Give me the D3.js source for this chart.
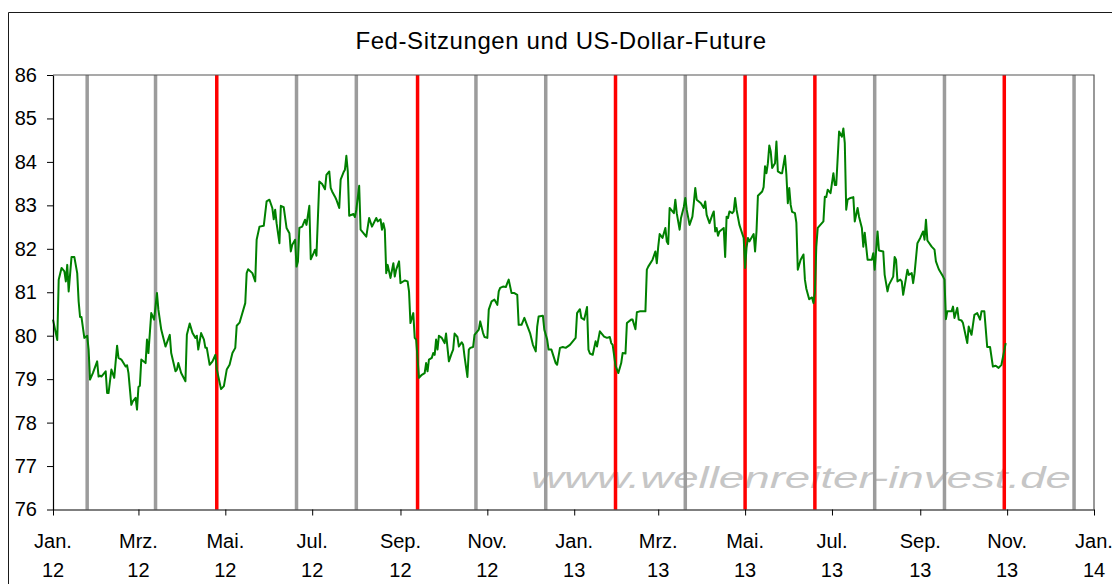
<!DOCTYPE html>
<html>

<head>
    <meta charset="utf-8">
    <script src="https://d3js.org/d3.v7.min.js"></script>
    <style>
        body {
            margin: 0;
            background-color: #ffffff;
        }
        svg text {
            font-family: "Liberation Sans", Arial, sans-serif;
        }
    </style>
</head>

<body>
    <svg id="canvas" width="1112" height="584"></svg>
    <script>
        const svg = d3.select('#canvas');
        const WIDTH = 1112;
        const HEIGHT = 584;
        const PLOT = { left: 53, right: 1094, top: 75, bottom: 509.5 };

        //chart texts
        const title = 'Fed-Sitzungen und US-Dollar-Future';
        const watermark = 'www.wellenreiter-invest.de';

        //y axis ticks
        const yTicks = [76, 77, 78, 79, 80, 81, 82, 83, 84, 85, 86];

        //x axis ticks: every second month, label = month / year
        const xTickDates = ['2012-01-01', '2012-03-01', '2012-05-01', '2012-07-01', '2012-09-01', '2012-11-01',
            '2013-01-01', '2013-03-01', '2013-05-01', '2013-07-01', '2013-09-01', '2013-11-01', '2014-01-01'];
        const xTickMonths = ['Jan.', 'Mrz.', 'Mai.', 'Jul.', 'Sep.', 'Nov.', 'Jan.', 'Mrz.', 'Mai.', 'Jul.', 'Sep.', 'Nov.', 'Jan.'];
        const xTickYears = ['12', '12', '12', '12', '12', '12', '13', '13', '13', '13', '13', '13', '14'];

        //fed meetings (grey = no change, red = decision that moved the market)
        const fedGrey = ['2012-01-25', '2012-03-13', '2012-06-20', '2012-08-01', '2012-10-24', '2012-12-12',
            '2013-03-20', '2013-07-31', '2013-09-18', '2013-12-18'];
        const fedRed = ['2012-04-25', '2012-09-13', '2013-01-30', '2013-05-01', '2013-06-19', '2013-10-30'];

        //us dollar future
        const dates = [
            '2012-01-01', '2012-01-04', '2012-01-05', '2012-01-07', '2012-01-09', '2012-01-10', '2012-01-11', '2012-01-12',
            '2012-01-14', '2012-01-16', '2012-01-18', '2012-01-19', '2012-01-20', '2012-01-21', '2012-01-23', '2012-01-25',
            '2012-01-26', '2012-01-27', '2012-01-29', '2012-02-01', '2012-02-02', '2012-02-03', '2012-02-04', '2012-02-07',
            '2012-02-08', '2012-02-09', '2012-02-11', '2012-02-13', '2012-02-15', '2012-02-16', '2012-02-18', '2012-02-21',
            '2012-02-22', '2012-02-23', '2012-02-25', '2012-02-26', '2012-02-28', '2012-02-29', '2012-03-01', '2012-03-02',
            '2012-03-03', '2012-03-06', '2012-03-07', '2012-03-08', '2012-03-10', '2012-03-12', '2012-03-14', '2012-03-15',
            '2012-03-17', '2012-03-20', '2012-03-23', '2012-03-24', '2012-03-27', '2012-03-28', '2012-03-29', '2012-03-31',
            '2012-04-03', '2012-04-04', '2012-04-06', '2012-04-08', '2012-04-10', '2012-04-11', '2012-04-12', '2012-04-14',
            '2012-04-16', '2012-04-17', '2012-04-18', '2012-04-20', '2012-04-22', '2012-04-24', '2012-04-25', '2012-04-28',
            '2012-04-30', '2012-05-02', '2012-05-04', '2012-05-06', '2012-05-08', '2012-05-09', '2012-05-11', '2012-05-15',
            '2012-05-16', '2012-05-17', '2012-05-20', '2012-05-22', '2012-05-23', '2012-05-25', '2012-05-28', '2012-05-30',
            '2012-06-01', '2012-06-03', '2012-06-04', '2012-06-05', '2012-06-06', '2012-06-08', '2012-06-09', '2012-06-11',
            '2012-06-13', '2012-06-15', '2012-06-16', '2012-06-17', '2012-06-19', '2012-06-20', '2012-06-21', '2012-06-22',
            '2012-06-24', '2012-06-26', '2012-06-27', '2012-06-29', '2012-06-30', '2012-07-02', '2012-07-03', '2012-07-04',
            '2012-07-06', '2012-07-08', '2012-07-10', '2012-07-11', '2012-07-13', '2012-07-14', '2012-07-15', '2012-07-17',
            '2012-07-18', '2012-07-20', '2012-07-21', '2012-07-23', '2012-07-24', '2012-07-25', '2012-07-26', '2012-07-27',
            '2012-07-30', '2012-07-31', '2012-08-01', '2012-08-03', '2012-08-04', '2012-08-05', '2012-08-08', '2012-08-10',
            '2012-08-12', '2012-08-15', '2012-08-16', '2012-08-18', '2012-08-19', '2012-08-20', '2012-08-21', '2012-08-22',
            '2012-08-23', '2012-08-25', '2012-08-27', '2012-08-28', '2012-08-29', '2012-08-31', '2012-09-01', '2012-09-04',
            '2012-09-06', '2012-09-07', '2012-09-08', '2012-09-10', '2012-09-11', '2012-09-12', '2012-09-14', '2012-09-16',
            '2012-09-18', '2012-09-19', '2012-09-20', '2012-09-21', '2012-09-23', '2012-09-24', '2012-09-25', '2012-09-26',
            '2012-09-27', '2012-09-28', '2012-09-30', '2012-10-01', '2012-10-02', '2012-10-03', '2012-10-05', '2012-10-07',
            '2012-10-08', '2012-10-09', '2012-10-11', '2012-10-12', '2012-10-14', '2012-10-15', '2012-10-16', '2012-10-18',
            '2012-10-19', '2012-10-20', '2012-10-22', '2012-10-23', '2012-10-25', '2012-10-26', '2012-10-27', '2012-10-29',
            '2012-10-30', '2012-11-01', '2012-11-02', '2012-11-04', '2012-11-06', '2012-11-08', '2012-11-09', '2012-11-10',
            '2012-11-12', '2012-11-14', '2012-11-15', '2012-11-16', '2012-11-18', '2012-11-20', '2012-11-22', '2012-11-23',
            '2012-11-25', '2012-11-27', '2012-11-29', '2012-12-01', '2012-12-03', '2012-12-05', '2012-12-06', '2012-12-07',
            '2012-12-10', '2012-12-11', '2012-12-13', '2012-12-14', '2012-12-16', '2012-12-19', '2012-12-20', '2012-12-22',
            '2012-12-24', '2012-12-26', '2012-12-29', '2013-01-02', '2013-01-03', '2013-01-05', '2013-01-06', '2013-01-08',
            '2013-01-10', '2013-01-11', '2013-01-12', '2013-01-14', '2013-01-16', '2013-01-17', '2013-01-19', '2013-01-20',
            '2013-01-22', '2013-01-24', '2013-01-26', '2013-01-27', '2013-01-28', '2013-01-30', '2013-02-01', '2013-02-03',
            '2013-02-04', '2013-02-06', '2013-02-07', '2013-02-10', '2013-02-11', '2013-02-13', '2013-02-14', '2013-02-16',
            '2013-02-20', '2013-02-21', '2013-02-22', '2013-02-25', '2013-02-27', '2013-02-28', '2013-03-01', '2013-03-02',
            '2013-03-04', '2013-03-06', '2013-03-07', '2013-03-08', '2013-03-09', '2013-03-11', '2013-03-12', '2013-03-13',
            '2013-03-14', '2013-03-16', '2013-03-17', '2013-03-19', '2013-03-20', '2013-03-21', '2013-03-23', '2013-03-25',
            '2013-03-26', '2013-03-27', '2013-03-28', '2013-03-31', '2013-04-02', '2013-04-03', '2013-04-04', '2013-04-06',
            '2013-04-08', '2013-04-09', '2013-04-10', '2013-04-11', '2013-04-12', '2013-04-13', '2013-04-16', '2013-04-17',
            '2013-04-18', '2013-04-19', '2013-04-20', '2013-04-22', '2013-04-23', '2013-04-24', '2013-04-25', '2013-04-27',
            '2013-04-30', '2013-05-01', '2013-05-02', '2013-05-03', '2013-05-04', '2013-05-07', '2013-05-08', '2013-05-09',
            '2013-05-10', '2013-05-13', '2013-05-14', '2013-05-15', '2013-05-16', '2013-05-17', '2013-05-18', '2013-05-19',
            '2013-05-20', '2013-05-22', '2013-05-23', '2013-05-24', '2013-05-26', '2013-05-27', '2013-05-29', '2013-05-30',
            '2013-05-31', '2013-06-01', '2013-06-02', '2013-06-03', '2013-06-05', '2013-06-06', '2013-06-07', '2013-06-09',
            '2013-06-11', '2013-06-12', '2013-06-13', '2013-06-15', '2013-06-17', '2013-06-18', '2013-06-19', '2013-06-20',
            '2013-06-21', '2013-06-25', '2013-06-26', '2013-06-27', '2013-06-28', '2013-06-30', '2013-07-02', '2013-07-03',
            '2013-07-04', '2013-07-06', '2013-07-08', '2013-07-09', '2013-07-10', '2013-07-11', '2013-07-12', '2013-07-14',
            '2013-07-16', '2013-07-17', '2013-07-19', '2013-07-20', '2013-07-22', '2013-07-23', '2013-07-24', '2013-07-26',
            '2013-07-29', '2013-07-30', '2013-07-31', '2013-08-02', '2013-08-03', '2013-08-06', '2013-08-07', '2013-08-09',
            '2013-08-10', '2013-08-13', '2013-08-14', '2013-08-15', '2013-08-16', '2013-08-18', '2013-08-19', '2013-08-20',
            '2013-08-22', '2013-08-23', '2013-08-24', '2013-08-26', '2013-08-27', '2013-08-28', '2013-08-30', '2013-09-01',
            '2013-09-03', '2013-09-04', '2013-09-05', '2013-09-06', '2013-09-09', '2013-09-11', '2013-09-12', '2013-09-14',
            '2013-09-17', '2013-09-18', '2013-09-19', '2013-09-20', '2013-09-23', '2013-09-24', '2013-09-25', '2013-09-27',
            '2013-09-28', '2013-09-30', '2013-10-01', '2013-10-04', '2013-10-05', '2013-10-07', '2013-10-09', '2013-10-11',
            '2013-10-13', '2013-10-14', '2013-10-16', '2013-10-18', '2013-10-20', '2013-10-22', '2013-10-24', '2013-10-26',
            '2013-10-28', '2013-10-31'
        ];
        const dollar = [
            80.37, 79.90, 81.29, 81.56, 81.48, 81.25, 81.63, 81.02,
            81.81, 81.81, 81.44, 80.79, 80.43, 80.43, 79.95, 80.00,
            79.68, 78.99, 79.14, 79.41, 79.06, 79.08, 79.06, 79.18,
            78.68, 78.68, 79.22, 79.03, 79.77, 79.49, 79.45, 79.29,
            79.32, 79.14, 78.41, 78.49, 78.57, 78.30, 78.82, 78.85,
            79.45, 79.37, 79.91, 79.60, 80.52, 80.37, 80.98, 80.60,
            80.14, 79.75, 80.02, 79.60, 79.18, 79.22, 79.37, 79.14,
            78.95, 80.02, 80.28, 80.06, 79.95, 80.00, 79.68, 80.06,
            79.91, 79.72, 79.72, 79.33, 79.41, 79.56, 79.23, 78.77,
            78.84, 79.22, 79.33, 79.60, 79.72, 80.23, 80.30, 80.75,
            81.44, 81.53, 81.44, 81.25, 82.21, 82.51, 82.53, 83.09,
            83.13, 82.94, 82.68, 82.90, 82.59, 82.13, 82.99, 82.96,
            82.48, 82.36, 81.94, 82.09, 82.21, 81.59, 81.71, 82.48,
            82.51, 82.67, 82.55, 82.99, 81.76, 81.90, 81.98, 81.84,
            83.55, 83.49, 83.37, 83.70, 83.78, 83.40, 83.32, 83.20,
            83.13, 82.94, 83.59, 83.76, 83.82, 84.14, 83.78, 82.76,
            82.80, 82.73, 82.90, 83.45, 82.44, 82.40, 82.28, 82.71,
            82.51, 82.71, 82.63, 82.68, 82.44, 82.59, 82.44, 81.44,
            81.63, 81.33, 81.67, 81.36, 81.52, 81.71, 81.21, 81.27,
            81.25, 81.02, 80.29, 80.52, 79.95, 79.91, 79.03, 79.10,
            79.14, 79.37, 79.18, 79.45, 79.49, 79.60, 79.56, 79.91,
            79.68, 80.00, 79.95, 79.89, 79.83, 80.05, 79.41, 79.60,
            79.68, 80.05, 79.97, 79.75, 79.85, 79.79, 79.52, 79.05,
            79.68, 79.72, 79.74, 80.02, 80.10, 80.14, 80.33, 80.06,
            79.97, 79.95, 80.60, 80.79, 80.83, 80.71, 81.02, 81.10,
            81.13, 81.12, 81.21, 81.29, 80.98, 80.98, 80.94, 80.25,
            80.25, 80.41, 80.23, 80.06, 79.79, 79.64, 80.21, 80.44,
            80.46, 80.14, 79.91, 79.68, 79.68, 79.37, 79.33, 79.72,
            79.74, 79.72, 79.79, 79.95, 80.52, 80.61, 80.41, 80.37,
            80.66, 79.68, 79.59, 79.56, 79.87, 79.75, 80.10, 80.06,
            79.98, 79.95, 79.97, 79.83, 79.79, 79.31, 79.14, 79.37,
            79.60, 79.59, 80.29, 80.37, 80.37, 80.15, 80.54, 80.56,
            80.56, 81.52, 81.59, 81.75, 81.94, 81.67, 82.05, 82.34,
            82.25, 82.48, 82.17, 82.11, 82.94, 82.86, 82.82, 83.13,
            82.82, 82.44, 82.71, 82.97, 83.17, 82.90, 82.55, 82.74,
            83.05, 83.40, 83.13, 83.05, 82.94, 83.09, 82.78, 82.59,
            82.78, 82.86, 82.40, 82.48, 82.30, 82.40, 82.48, 81.81,
            82.74, 82.71, 82.86, 82.82, 82.86, 83.17, 82.90, 82.55,
            82.25, 81.56, 82.02, 82.25, 82.17, 82.34, 81.94, 82.40,
            83.22, 83.32, 83.42, 83.90, 83.74, 83.97, 84.38, 84.24,
            83.86, 83.97, 84.47, 83.78, 83.74, 83.74, 84.14, 83.70,
            83.05, 83.40, 83.01, 82.85, 82.82, 82.60, 81.52, 81.75,
            81.87, 81.29, 81.08, 80.84, 80.88, 80.75, 81.00, 82.05,
            82.48, 82.63, 83.20, 83.19, 83.36, 83.28, 83.74, 83.47,
            83.47, 84.70, 84.58, 84.77, 84.43, 82.90, 83.13, 83.17,
            83.19, 82.63, 82.94, 82.74, 82.48, 82.05, 82.37, 81.75,
            81.75, 81.90, 81.52, 82.40, 81.96, 81.94, 81.40, 81.02,
            81.17, 81.36, 81.81, 81.75, 81.25, 81.29, 81.25, 80.94,
            81.33, 81.52, 81.40, 81.44, 81.21, 81.44, 82.13, 82.25,
            82.40, 82.21, 82.67, 82.19, 82.05, 81.98, 81.71, 81.53,
            81.36, 81.29, 80.38, 80.56, 80.56, 80.67, 80.41, 80.64,
            80.37, 80.35, 80.29, 79.83, 80.21, 80.02, 80.48, 80.52,
            80.37, 80.56, 80.56, 79.74, 79.74, 79.29, 79.31, 79.26,
            79.33, 79.83
        ];

        const parse = d3.timeParse('%Y-%m-%d');
        const series = dates.map((d, i) => ({ date: parse(d), value: dollar[i] }));

        const x = d3.scaleTime()
            .domain([parse('2012-01-01'), parse('2014-01-01')])
            .range([PLOT.left, PLOT.right]);
        const y = d3.scaleLinear()
            .domain([76, 86])
            .range([PLOT.bottom, PLOT.top]);

        //outer chart frame (only left and top edge are inside the picture)
        svg.append('path')
            .attr('d', `M8.5,${HEIGHT} L8.5,12.5 L${WIDTH},12.5`)
            .attr('fill', 'none')
            .attr('stroke', '#1a1a1a')
            .attr('stroke-width', 1);

        //title
        svg.append('text')
            .attr('x', 561)
            .attr('y', 49)
            .attr('text-anchor', 'middle')
            .attr('font-size', 24)
            .attr('letter-spacing', 0.6)
            .attr('fill', '#000')
            .text(title);

        //watermark sits behind the meeting lines
        svg.append('text')
            .attr('x', 531)
            .attr('y', 488)
            .attr('font-size', 30)
            .attr('font-style', 'italic')
            .attr('fill', '#c6c6c6')
            .attr('textLength', 540)
            .attr('lengthAdjust', 'spacingAndGlyphs')
            .text(watermark);

        //fed meeting lines
        svg.append('g')
            .selectAll('line')
            .data(fedGrey.map(parse))
            .join('line')
            .attr('x1', d => x(d))
            .attr('x2', d => x(d))
            .attr('y1', PLOT.top)
            .attr('y2', PLOT.bottom)
            .attr('stroke', '#9c9c9c')
            .attr('stroke-width', 3.5);

        svg.append('g')
            .selectAll('line')
            .data(fedRed.map(parse))
            .join('line')
            .attr('x1', d => x(d))
            .attr('x2', d => x(d))
            .attr('y1', PLOT.top)
            .attr('y2', PLOT.bottom)
            .attr('stroke', '#ff0000')
            .attr('stroke-width', 3.5);

        //plot area border (top + right)
        svg.append('path')
            .attr('d', `M${PLOT.left},${PLOT.top} L${PLOT.right},${PLOT.top} L${PLOT.right},${PLOT.bottom}`)
            .attr('fill', 'none')
            .attr('stroke', '#555')
            .attr('stroke-width', 1.2);

        //dollar line
        const line = d3.line()
            .x(d => x(d.date))
            .y(d => y(d.value));

        svg.append('path')
            .datum(series)
            .attr('d', line)
            .attr('fill', 'none')
            .attr('stroke', '#008000')
            .attr('stroke-width', 2)
            .attr('stroke-linejoin', 'round');

        //y axis
        const yAxis = svg.append('g')
            .attr('transform', `translate(${PLOT.left},0)`)
            .call(d3.axisLeft(y).tickValues(yTicks).tickSize(6).tickSizeOuter(0).tickPadding(10));
        yAxis.select('.domain').attr('stroke', '#000').attr('stroke-width', 1.2);
        yAxis.selectAll('.tick line').attr('stroke', '#000');
        yAxis.selectAll('.tick text')
            .attr('font-size', 20)
            .attr('font-family', '"Liberation Sans", Arial, sans-serif')
            .attr('fill', '#000');

        //x axis, two line labels
        const xAxis = svg.append('g')
            .attr('transform', `translate(0,${PLOT.bottom})`)
            .call(d3.axisBottom(x).tickValues(xTickDates.map(parse)).tickSize(6).tickSizeOuter(0).tickFormat(''));
        xAxis.select('.domain').attr('stroke', '#000').attr('stroke-width', 1.2);
        xAxis.selectAll('.tick line').attr('stroke', '#000');

        const xLabels = svg.append('g')
            .attr('font-size', 20)
            .attr('text-anchor', 'middle')
            .attr('fill', '#000');
        xLabels.selectAll('text.month')
            .data(xTickDates)
            .join('text')
            .attr('class', 'month')
            .attr('x', d => x(parse(d)))
            .attr('y', 548)
            .text((d, i) => xTickMonths[i]);
        xLabels.selectAll('text.year')
            .data(xTickDates)
            .join('text')
            .attr('class', 'year')
            .attr('x', d => x(parse(d)))
            .attr('y', 577)
            .text((d, i) => xTickYears[i]);
    </script>
</body>

</html>
